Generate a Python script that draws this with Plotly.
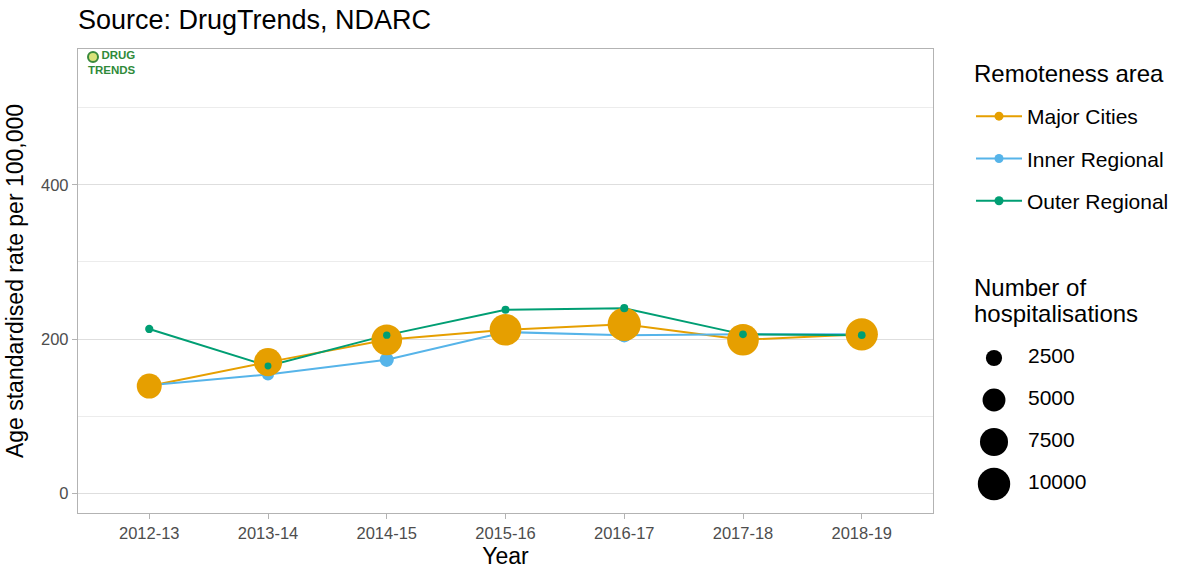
import numpy as np
import plotly.graph_objects as go

# ---------------- data ----------------
years = ["2012-13", "2013-14", "2014-15", "2015-16", "2016-17", "2017-18", "2018-19"]
series_names = ["Major Cities", "Inner Regional", "Outer Regional"]
major_rate = [139, 170, 199, 212, 219, 199, 206]
inner_rate = [140, 154, 173, 209, 205, 206, 206]
outer_rate = [213, 165, 205, 238, 240, 206, 205]
major_hosp = [5950, 7600, 9000, 9550, 10550, 9550, 9950]
inner_hosp = [1500, 1400, 1900, 2000, 2000, 1900, 1900]
outer_hosp = [650, 450, 520, 600, 620, 560, 560]
size_breaks = [2500, 5000, 7500, 10000]

# ---------------- styles ----------------
colors = {"Major Cities": "#E69F00", "Inner Regional": "#56B4E9", "Outer Regional": "#009E73"}
FONT = "Liberation Sans, Arial, sans-serif"
W, H = 1180, 569
ML, MR, MT, MB = 78, 5, 49, 56
PW = W - ML - MR
PH = H - MT - MB
MAX_D = 32.4  # px diameter for 10000 hospitalisations


def diam(n):
    return list(MAX_D * np.sqrt(np.asarray(n, dtype=float) / 10000.0))


def py(pix):
    return (H - MB - pix) / PH


def px(pix):
    return (pix - ML) / PW


rates = {"Major Cities": major_rate, "Inner Regional": inner_rate, "Outer Regional": outer_rate}
hosp = {"Major Cities": major_hosp, "Inner Regional": inner_hosp, "Outer Regional": outer_hosp}

fig = go.Figure()

# lines (below points)
for name in series_names:
    fig.add_trace(go.Scatter(x=years, y=rates[name], mode="lines",
                             line=dict(color=colors[name], width=2),
                             showlegend=False, hoverinfo="skip"))

# points (row order: alphabetical)
for name in ["Inner Regional", "Major Cities", "Outer Regional"]:
    fig.add_trace(go.Scatter(x=years, y=rates[name], mode="markers",
                             marker=dict(color=colors[name], size=diam(hosp[name]),
                                         line=dict(width=0), opacity=1),
                             showlegend=False, name=name))

# legend entries for remoteness area
for name in series_names:
    fig.add_trace(go.Scatter(x=[None], y=[None], mode="lines+markers", name=name,
                             legendgroup=name,
                             line=dict(color=colors[name], width=2),
                             marker=dict(color=colors[name], size=9, opacity=1)))

# size legend drawn on a hidden helper axis
x2_start_px = 955.6
LEG_CIRCLE_X = 994 - x2_start_px
LEG_TEXT_X = 1028 - x2_start_px
size_labels = [str(b) for b in size_breaks]
fig.add_trace(go.Scatter(x=[LEG_CIRCLE_X] * len(size_breaks), y=size_labels, mode="markers",
                         marker=dict(color="black", size=diam(size_breaks), line=dict(width=0),
                                     opacity=1),
                         xaxis="x2", yaxis="y2", showlegend=False, hoverinfo="skip"))
fig.add_trace(go.Scatter(x=[LEG_TEXT_X] * len(size_breaks), y=size_labels, mode="text",
                         text=size_labels, textposition="middle right",
                         textfont=dict(family=FONT, size=21, color="black"),
                         xaxis="x2", yaxis="y2", showlegend=False, hoverinfo="skip"))

fig.update_layout(
    width=W, height=H,
    margin=dict(l=ML, r=MR, t=MT, b=MB, autoexpand=False),
    paper_bgcolor="white", plot_bgcolor="white",
    font=dict(family=FONT, color="black"),
    title=dict(text="Source: DrugTrends, NDARC", x=0, xref="paper", xanchor="left",
               y=1 - 20 / H, yref="container", yanchor="middle",
               font=dict(family=FONT, size=27, color="black")),
    xaxis=dict(domain=[0, px(933)], type="category", categoryorder="array", categoryarray=years,
               range=[-0.6, 6.6], showgrid=False, zeroline=False,
               showline=True, mirror=True, linecolor="#b3b3b3", linewidth=1.3,
               ticks="outside", ticklen=5, tickcolor="#b3b3b3", tickwidth=1,
               tickfont=dict(family=FONT, size=16.5, color="#4d4d4d"),
               title=dict(text="Year", standoff=10, font=dict(family=FONT, size=23, color="black"))),
    yaxis=dict(domain=[0, 1], range=[-25.6, 576], tick0=0, dtick=200,
               showgrid=True, gridcolor="#dedede", gridwidth=1, zeroline=False,
               minor=dict(dtick=100, showgrid=True, gridcolor="#ececec", gridwidth=0.8, ticks=""),
               showline=True, mirror=True, linecolor="#b3b3b3", linewidth=1.3,
               ticks="outside", ticklen=5, tickcolor="#b3b3b3", tickwidth=1,
               tickfont=dict(family=FONT, size=16.5, color="#4d4d4d"),
               title=dict(text="Age standardised rate per 100,000", standoff=10,
                          font=dict(family=FONT, size=23, color="black"))),
    xaxis2=dict(domain=[px(x2_start_px), 1], range=[0, W - MR - x2_start_px], visible=False,
                fixedrange=True),
    yaxis2=dict(domain=[py(505), py(337)], type="category", categoryorder="array",
                categoryarray=size_labels, range=[len(size_breaks) - 0.5, -0.5],
                visible=False, anchor="x2"),
    legend=dict(x=px(971), xanchor="left", y=py(96), yanchor="top",
                font=dict(family=FONT, size=21, color="black"),
                tracegroupgap=12, bgcolor="rgba(0,0,0,0)", itemwidth=46),
    showlegend=True,
)

# remoteness legend title
fig.add_annotation(text="Remoteness area", x=px(972), y=py(73), xref="paper", yref="paper",
                   xanchor="left", yanchor="middle", showarrow=False,
                   font=dict(family=FONT, size=24, color="black"))

# size legend title
fig.add_annotation(text="Number of", x=px(972), y=py(287), xref="paper", yref="paper",
                   xanchor="left", yanchor="middle", showarrow=False,
                   font=dict(family=FONT, size=24, color="black"))
fig.add_annotation(text="hospitalisations", x=px(972), y=py(313), xref="paper", yref="paper",
                   xanchor="left", yanchor="middle", showarrow=False,
                   font=dict(family=FONT, size=24, color="black"))

# DrugTrends logo (text-based)
fig.add_shape(type="circle", xref="paper", yref="paper", xsizemode="pixel", ysizemode="pixel",
              xanchor=px(93), yanchor=py(57), x0=-5, x1=5, y0=-5, y1=5,
              fillcolor="#d9e27a", line=dict(color="#3a8a3c", width=2))
fig.add_annotation(text="<b>DRUG<br>TRENDS</b>", x=px(86), y=py(63), xref="paper", yref="paper",
                   xanchor="left", yanchor="middle", align="right", showarrow=False,
                   font=dict(family=FONT, size=11.5, color="#2f8a3a"))

fig.write_html("out.html", post_script="document.body.style.margin='0px';",
               config={"displayModeBar": False})
